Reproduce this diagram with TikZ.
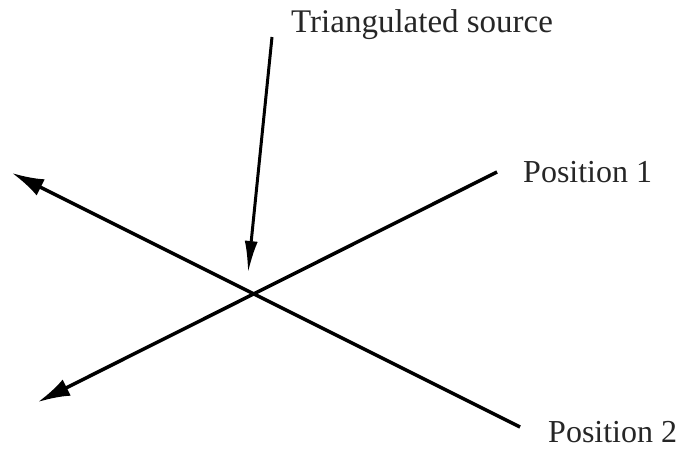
\documentclass[tikz,border=0pt]{standalone}
\usepackage{fontspec}
\setmainfont{Liberation Serif}
\usetikzlibrary{arrows.meta}

\begin{document}
\begin{tikzpicture}[
	x=1pt, y=-1pt,
	tag/.style={
		anchor=base west,
		inner sep=0pt,
		text=black!85,
		font=\fontsize{32}{38}\selectfont
	},
	ray/.style={
		-{Latex[length=32pt, width=18pt]},
		line width=3.5pt
	},
	pointer/.style={
		-{Latex[length=32pt, width=13pt]},
		line width=3pt
	}
	]
	\useasboundingbox (0,0) rectangle (687,448);
	
	% Labels
	\node[tag, font=\fontsize{33}{38}\selectfont] (source_label) at (291,32) {Triangulated source};
	\node[tag] (pos1_label) at (523,182) {Position 1};
	\node[tag] (pos2_label) at (548,442) {Position 2};
	
	% Ends of the rays
	\coordinate (pos1_start) at (497,172);
	\coordinate (pos1_end) at (38,402);
	\coordinate (pos2_start) at (520,427);
	\coordinate (pos2_end) at (12,173);
	
	% Ends of the pointer
	\coordinate (source_start) at (272,37);
	\coordinate (source_end) at (248,273);
	
	% Arrows
	\draw[ray] (pos1_start) -- (pos1_end);
	\draw[ray] (pos2_start) -- (pos2_end);
	\draw[pointer] (source_start) -- (source_end);
	
\end{tikzpicture}
\end{document}
